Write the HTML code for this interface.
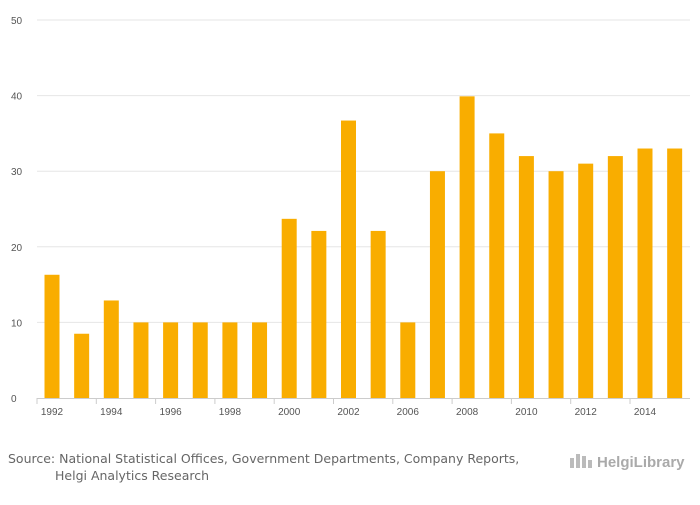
<!DOCTYPE html>
<html><head><meta charset="utf-8"><style>
body{margin:0;background:#fff;width:700px;height:500px;overflow:hidden;font-family:"Liberation Sans",sans-serif}
</style></head><body>
<svg width="700" height="500">
<g id="grid"></g><g id="bars"></g><g id="xaxis"></g>
<text x="8" y="463" font-size="12.5" font-family="DejaVu Sans, sans-serif" fill="#666">Source: National Statistical Offices, Government Departments, Company Reports,</text>
<text x="55" y="480" font-size="12.5" font-family="DejaVu Sans, sans-serif" fill="#666">Helgi Analytics Research</text>
<g>
<rect x="570" y="458" width="4" height="10" fill="#bbb"/><rect x="576" y="454" width="4" height="14" fill="#bbb"/><rect x="582" y="456" width="4" height="12" fill="#bbb"/><rect x="588" y="460" width="4" height="8" fill="#bbb"/>
<text x="597" y="467" font-size="15" fill="#aaa" font-weight="bold">HelgiLibrary</text></g>
</svg>
<script>
const categories=[1992,1993,1994,1995,1996,1997,1998,1999,2000,2001,2002,2003,2006,2007,2008,2009,2010,2011,2012,2013,2014,2015];
const values=[16.3,8.5,12.9,10,10,10,10,10,23.7,22.1,36.7,22.1,10,30,39.9,35,32,30,31,32,33,33];
const yTicks=[0,10,20,30,40,50];
const ns="http://www.w3.org/2000/svg";
const y0=398,y50=20,x0=52,step=29.65;
const y=v=>y0-(y0-y50)*v/50, x=i=>x0+i*step;
function mk(t,a,p){const e=document.createElementNS(ns,t);for(const k in a)e.setAttribute(k,a[k]);document.getElementById(p).appendChild(e);return e;}
yTicks.forEach(t=>{
 if(t>0){const l=mk('line',{x1:37,x2:690,y1:y(t),y2:y(t),stroke:'#e6e6e6'},'grid');
 
 }
 const tx=mk('text',{x:11,y:y(t)+4,'font-size':10,fill:'#555'},'grid');tx.textContent=t;
 
 
});
values.forEach((v,i)=>{
 const r=mk('rect',{x:x(i)-7.5,y:y(v),width:15,height:y0-y(v),fill:'#f9ad00'},'bars');
 
 
 if(i%2==0){
  const t=mk('text',{x:x(i),y:y0+17,'font-size':10,fill:'#555','text-anchor':'middle'},'xaxis');t.textContent=categories[i];
  
  
  mk('line',{x1:x(i)-15,x2:x(i)-15,y1:y0,y2:y0+6,stroke:'#ccc'},'xaxis');
 }
});
const ax=mk('line',{x1:37,x2:690,y1:y0+0.5,y2:y0+0.5,stroke:'#ccc'},'xaxis');


</script>
</body></html>
